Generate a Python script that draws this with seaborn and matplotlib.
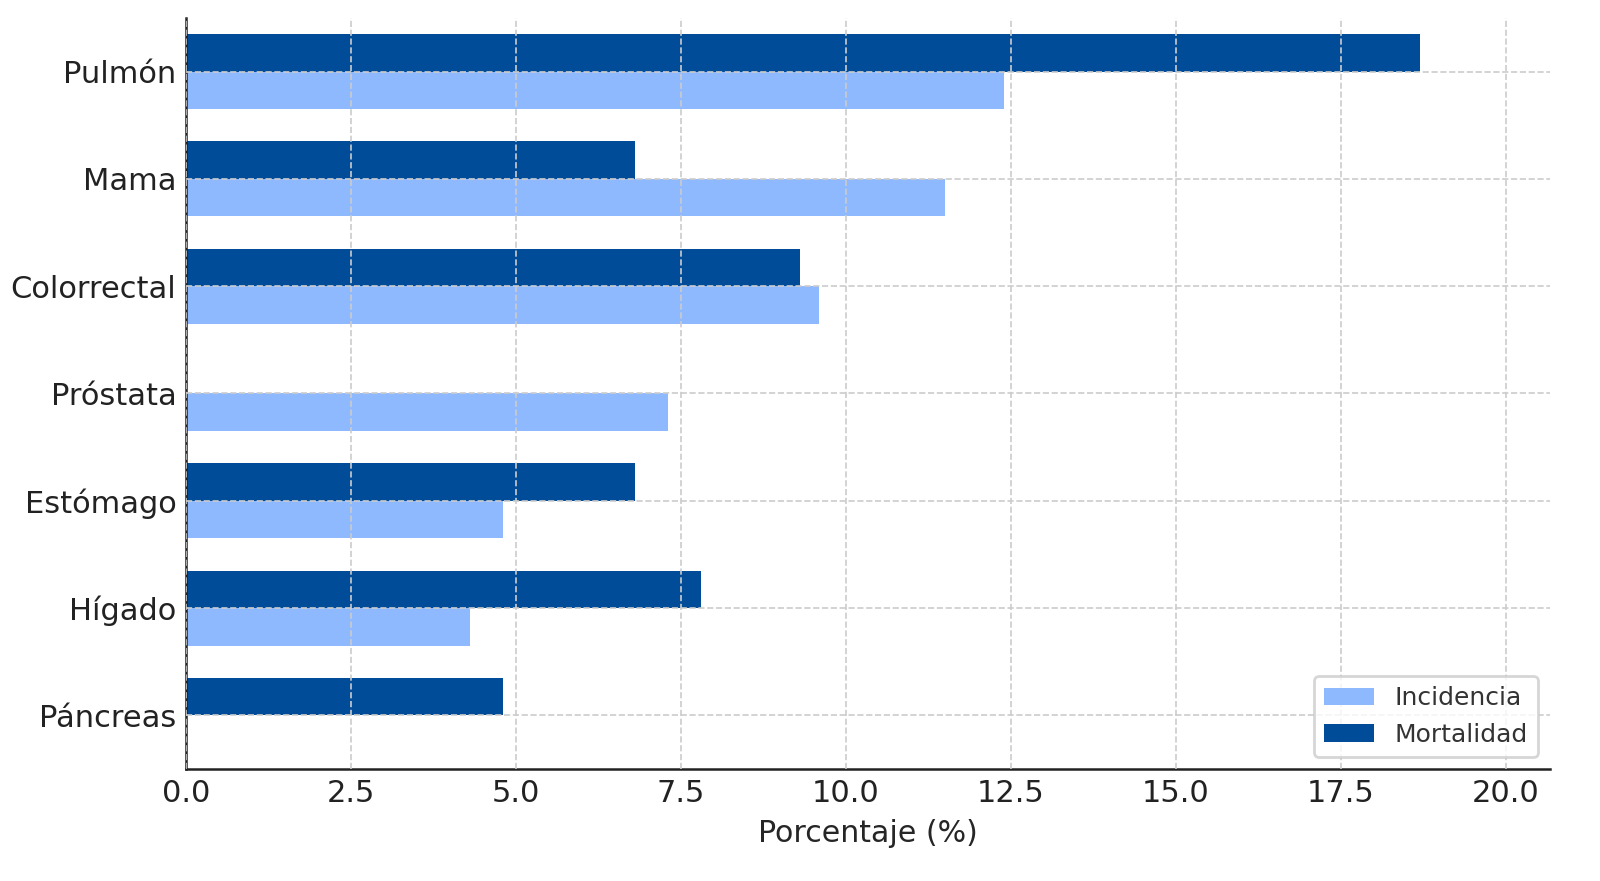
import numpy as np
import pandas as pd
import seaborn as sns
import matplotlib
matplotlib.use('Agg')
import matplotlib.pyplot as plt

# datos
tipos = ['Pulmón', 'Mama', 'Colorrectal', 'Próstata', 'Estómago', 'Hígado', 'Páncreas']
incidencia = [12.4, 11.5, 9.6, 7.3, 4.8, 4.3, np.nan]
mortalidad = [18.7, 6.8, 9.3, np.nan, 6.8, 7.8, 4.8]
series = ['Mortalidad', 'Incidencia']
colores = {'Incidencia': '#8fb9ff', 'Mortalidad': '#004c99'}

df = pd.DataFrame({
    'Tipo': tipos * 2,
    'Serie': ['Incidencia'] * len(tipos) + ['Mortalidad'] * len(tipos),
    'Valor': incidencia + mortalidad,
}).dropna()

sns.set_style('white')
plt.rcParams['font.family'] = ['DejaVu Sans']
plt.rcParams['xtick.direction'] = 'in'
plt.rcParams['ytick.direction'] = 'in'

fig, ax = plt.subplots(figsize=(8, 4.405), dpi=200)
fig.subplots_adjust(left=0.11625, right=0.96875, top=0.9796, bottom=0.1271)

sns.barplot(data=df, x='Valor', y='Tipo', hue='Serie', order=tipos, hue_order=series,
            palette=colores, orient='h', width=0.7, errorbar=None, saturation=1,
            linewidth=0, ax=ax)

ax.set_xlim(0, 20.67)
ax.set_xlabel('Porcentaje (%)', fontsize=10.8)
ax.set_ylabel('')
ax.tick_params(axis='both', labelsize=11, length=3.5, width=0.8, color='#222222', labelcolor='#222222')
ax.grid(True, linestyle='--', color='#cccccc', linewidth=0.6)
ax.set_axisbelow(False)
sns.despine(ax=ax)
for s in ['left', 'bottom']:
    ax.spines[s].set_color('#222222')
    ax.spines[s].set_linewidth(0.9)

handles, labels = ax.get_legend_handles_labels()
orden = [labels.index('Incidencia'), labels.index('Mortalidad')]
leg = ax.legend([handles[i] for i in orden], [labels[i] for i in orden], loc='lower right',
                fontsize=9, frameon=True, fancybox=True, edgecolor='#cccccc')
for t in leg.get_texts():
    t.set_color('#333333')

plt.savefig('out.png', dpi=200)
